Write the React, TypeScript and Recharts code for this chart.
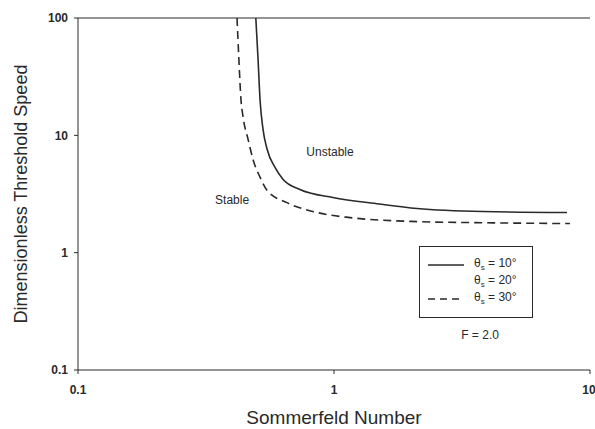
import React from 'react';
import { LineChart, Line, XAxis, YAxis, ReferenceLine, ReferenceDot, Legend } from 'recharts';

// Solid curve (theta = 10°)
const sommerfeldSolid = [0.495, 0.505, 0.514, 0.528, 0.548, 0.589, 0.633, 0.736, 0.99, 1.5, 2.11, 3.82, 8.13];
const speedSolid = [100, 44.7, 20.3, 11.3, 7.6, 5.3, 4.2, 3.45, 2.95, 2.6, 2.38, 2.24, 2.2];
// Dashed curve (theta = 30°)
const sommerfeldDashed = [0.418, 0.425, 0.433, 0.441, 0.462, 0.483, 0.514, 0.548, 0.655, 0.859, 1.155, 2.11, 3.82, 8.35];
const speedDashed = [100, 44.7, 20.3, 14.5, 9.2, 6.2, 4.4, 3.39, 2.67, 2.2, 1.99, 1.84, 1.8, 1.77];

const xTicks = [0.1, 1, 10];
const yTicks = [0.1, 1, 10, 100];
const legendAngles = ['10°', '20°', '30°'];
const legendStyles = ['solid', 'none', 'dashed'];

const solidData = sommerfeldSolid.map((s, i) => ({ s, v: speedSolid[i] }));
const dashedData = sommerfeldDashed.map((s, i) => ({ s, v: speedDashed[i] }));

const FONT = '"Liberation Sans", Arial, sans-serif';
const INK = '#2a2a2a';

const LegendBox = () => (
  <div
    style={{
      border: `1.5px solid ${INK}`,
      width: 114,
      height: 72,
      boxSizing: 'border-box',
      padding: '9px 0 0 8px',
      fontFamily: FONT,
      fontSize: 12,
      color: INK,
      background: '#fff',
    }}
  >
    {legendAngles.map((a, i) => (
      <div key={i} style={{ display: 'flex', alignItems: 'center', height: 17 }}>
        <svg width={38} height={10} style={{ marginRight: 8 }}>
          {legendStyles[i] !== 'none' && (
            <line
              x1={0}
              y1={5}
              x2={36}
              y2={5}
              stroke={INK}
              strokeWidth={1.5}
              strokeDasharray={legendStyles[i] === 'dashed' ? '7 5' : undefined}
            />
          )}
        </svg>
        <span>
          θ<sub style={{ fontSize: 8 }}>s</sub> = {a}
        </span>
      </div>
    ))}
  </div>
);

const fmt = (v: number) => (v === 0.1 ? '0.1' : String(v));

export default function App() {
  return (
    <div style={{ position: 'absolute', left: 0, top: 0, width: 595, height: 429, background: '#fff' }}>
      <LineChart width={595} height={429} margin={{ top: 18, right: 5, bottom: 0, left: 0 }}>
        <XAxis
          dataKey="s"
          type="number"
          scale="log"
          domain={[0.1, 10]}
          ticks={xTicks}
          allowDataOverflow
          height={59}
          tickFormatter={fmt}
          tick={{ fill: INK, fontSize: 12, fontFamily: FONT, fontWeight: 'bold' }}
          tickSize={4}
          tickMargin={11}
          stroke={INK}
          label={{ value: 'Sommerfeld Number', position: 'insideBottom', offset: 5, fill: INK, fontSize: 19, fontFamily: FONT }}
        />
        <YAxis
          dataKey="v"
          type="number"
          scale="log"
          domain={[0.1, 100]}
          ticks={yTicks}
          allowDataOverflow
          width={78}
          tickFormatter={fmt}
          tick={{ fill: INK, fontSize: 12, fontFamily: FONT, fontWeight: 'bold' }}
          tickSize={4}
          tickMargin={6}
          stroke={INK}
          label={{
            value: 'Dimensionless Threshold Speed',
            angle: -90,
            position: 'insideLeft',
            offset: 21,
            fill: INK,
            fontSize: 18,
            fontFamily: FONT,
            style: { textAnchor: 'middle' },
          }}
        />
        <ReferenceLine y={100} stroke={INK} strokeWidth={1.2} />
        <Line data={solidData} dataKey="v" type="monotone" stroke={INK} strokeWidth={1.6} dot={false} isAnimationActive={false} />
        <Line
          data={dashedData}
          dataKey="v"
          type="monotone"
          stroke={INK}
          strokeWidth={1.6}
          strokeDasharray="8 5"
          dot={false}
          isAnimationActive={false}
        />
        <ReferenceDot x={0.965} y={7.3} r={0} stroke="none" label={{ value: 'Unstable', position: 'center', fill: INK, fontSize: 12, fontFamily: FONT }} />
        <ReferenceDot x={0.4} y={2.84} r={0} stroke="none" label={{ value: 'Stable', position: 'center', fill: INK, fontSize: 12, fontFamily: FONT }} />
        <ReferenceDot x={3.72} y={0.2} r={0} stroke="none" label={{ value: 'F = 2.0', position: 'center', fill: INK, fontSize: 12, fontFamily: FONT }} />
        <Legend
          content={<LegendBox />}
          layout="horizontal"
          verticalAlign="middle"
          align="center"
          wrapperStyle={{ left: 419, top: 246, width: 'auto' }}
        />
      </LineChart>
    </div>
  );
}
